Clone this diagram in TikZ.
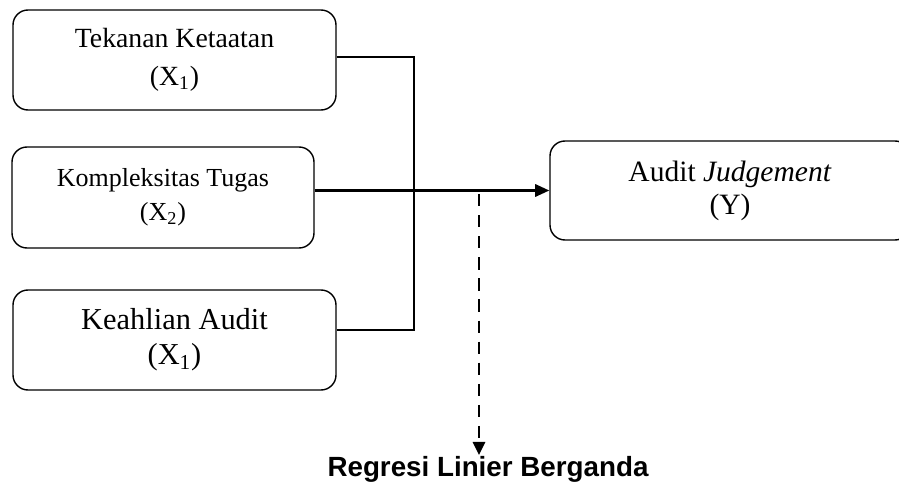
\documentclass[tikz,border=0pt]{standalone}
\usepackage{fontspec}
\setmainfont{Liberation Serif}
\newfontfamily\regfont{Liberation Sans}
\usetikzlibrary{arrows.meta,calc}
\tikzset{
	varbox/.style={draw, line width=0.8pt, rounded corners=0.3cm, align=center, inner sep=0pt},
	link/.style={line width=1.3pt},
}

\begin{document}
\begin{tikzpicture}
			%%%%% START %%%%%
			
			\useasboundingbox (0, 0) rectangle (17.98, 9.78);
			
			\node[varbox, minimum width=6.46cm, minimum height=2.0cm, font=\fontsize{15.8}{21.6}\selectfont] (tekanan) at (3.49, 8.58) {Tekanan Ketaatan\\(X\textsubscript{1})};
			\node[varbox, minimum width=6.04cm, minimum height=2.02cm, font=\fontsize{14.8}{19.3}\selectfont] (kompleks) at (3.26, 5.83) {Kompleksitas Tugas\\(X\textsubscript{2})};
			\node[varbox, minimum width=6.46cm, minimum height=2.0cm, font=\fontsize{17.3}{19.9}\selectfont] (keahlian) at (3.49, 2.98) {Keahlian Audit\\(X\textsubscript{1})};
			
			\node[varbox, minimum width=7.2cm, minimum height=1.98cm, font=\fontsize{16.8}{18.8}\selectfont] (judgement) at (14.6, 5.97) {Audit \textit{Judgement}\\(Y)};
			
			\node[font=\regfont\bfseries\fontsize{15.8}{18}\selectfont] (regresi) at (9.76, 0.4) {Regresi Linier Berganda};
			
			\coordinate (bus) at (8.28, 0);
			\coordinate (split) at (9.58, 5.9);
			\coordinate (tip) at (9.58, 0.68);
			
			\draw[link] ([yshift=0.06cm]tekanan.east) -- ([yshift=0.06cm]tekanan.east -| bus) -- ([yshift=0.2cm]keahlian.east -| bus) -- ([yshift=0.2cm]keahlian.east);
			\draw[link, -{Triangle[length=8pt, width=7pt]}] (kompleks.east |- judgement.west) -- (judgement.west);
			
			\draw[link, dash pattern=on 7pt off 5pt, -{Triangle[length=7.5pt, width=7pt]}] (split) -- (tip);
			
			%%%%% END %%%%%
\end{tikzpicture}
\end{document}
